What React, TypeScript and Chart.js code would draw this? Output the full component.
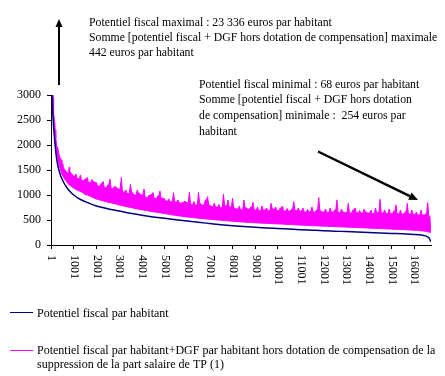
import React, { useEffect, useRef } from "react";
import { Chart, registerables } from "chart.js";

Chart.register(...registerables);

// ---------- data ----------
const X_TICKS = [1, 1001, 2001, 3001, 4001, 5001, 6001, 7001, 8001, 9001, 10001, 11001, 12001, 13001, 14001, 15001, 16001];
const X_MAX = 16745;
const X_LAST = 16735;
const Y_MAX = 3000;
const Y_STEP = 500;

// Potentiel fiscal par habitant (sorted, communes ranked)
const NAVY_IDX = [1, 15, 40, 70, 100, 130, 170, 220, 280, 350, 440, 550, 680, 820, 1000, 1300, 1650, 2000, 2500, 3000, 3500, 4000, 4500, 5000, 5500, 6000, 6500, 7000, 7500, 8000, 8500, 9000, 9500, 10000, 10500, 11000, 11500, 12000, 12500, 13000, 13500, 14000, 14500, 15000, 15500, 16000, 16300, 16500, 16600, 16680, 16730];
const NAVY_VAL = [23336, 5000, 3300, 2750, 2480, 2280, 2060, 1830, 1640, 1500, 1370, 1260, 1160, 1080, 1000, 910, 840, 780, 725, 680, 635, 595, 562, 533, 505, 478, 453, 430, 407, 387, 370, 355, 342, 330, 318, 306, 296, 286, 277, 268, 259, 250, 241, 232, 223, 212, 200, 182, 160, 125, 68];

// Potentiel fiscal + DGF : early (steep) part, peaks and troughs
const MAG_EARLY_IDX = [1, 20, 40, 60, 80, 100, 130, 160, 190, 220, 260, 300, 340, 380, 420, 460, 500, 550, 600, 650, 700, 750, 800, 850, 900, 950];
const MAG_EARLY_HIGH = [23442, 6000, 3800, 3300, 3100, 2950, 2600, 2450, 2300, 2140, 2000, 1970, 1900, 1800, 1740, 1700, 1620, 1560, 1520, 1500, 1470, 1440, 1553, 1450, 1420, 1400];
const MAG_EARLY_LOW = [8000, 4500, 3400, 3000, 2800, 2580, 2380, 2200, 2080, 1960, 1830, 1720, 1630, 1560, 1500, 1450, 1400, 1360, 1320, 1290, 1260, 1230, 1200, 1190, 1170, 1150];

// then one peak / trough pair every 100 communes from 1000 to 16700
const MAG_START = 1000;
const MAG_STEP = 100;
const MAG_HIGH = [
  1380, 1420, 1330, 1400, 1290, 1320, 1350, 1250, 1310, 1270,
  1250, 1180, 1230, 1270, 1150, 1200, 1320, 1130, 1180, 1150,
  1120, 1353, 1060, 1100, 1030, 1213, 1050, 1000, 1100, 1040,
  1000, 1120, 950, 990, 1010, 1050, 930, 980, 1080, 940,
  930, 880, 920, 870, 1047, 860, 900, 840, 853, 880,
  850, 1053, 810, 870, 800, 1053, 830, 800, 900, 967,
  800, 770, 840, 760, 810, 750, 1020, 790, 900, 760,
  933, 740, 720, 780, 710, 900, 750, 720, 760, 853,
  700, 760, 690, 780, 700, 740, 690, 833, 720, 760,
  690, 740, 780, 680, 730, 680, 720, 867, 690, 740,
  680, 740, 660, 710, 670, 760, 660, 700, 947, 680,
  660, 720, 650, 740, 660, 700, 900, 650, 720, 660,
  650, 833, 640, 700, 740, 645, 690, 640, 720, 660,
  640, 700, 630, 740, 650, 913, 640, 700, 630, 720,
  630, 680, 800, 625, 700, 620, 660, 833, 620, 700,
  610, 660, 600, 700, 600, 620, 847, 570,
];
const MAG_LOW = [
  1140, 1110, 1090, 1070, 1050, 1010, 1000, 980, 960, 940,
  920, 905, 895, 880, 870, 855, 850, 835, 825, 815,
  800, 790, 780, 770, 760, 750, 742, 730, 722, 712,
  705, 698, 690, 680, 672, 665, 658, 650, 645, 636,
  630, 622, 615, 605, 598, 590, 585, 578, 570, 565,
  560, 555, 550, 545, 540, 537, 532, 528, 522, 518,
  515, 510, 506, 502, 498, 495, 490, 486, 482, 478,
  475, 472, 468, 465, 462, 458, 455, 452, 450, 447,
  445, 442, 440, 437, 435, 433, 430, 428, 426, 424,
  422, 420, 418, 415, 412, 410, 408, 405, 403, 400,
  398, 396, 394, 391, 389, 387, 385, 383, 381, 379,
  377, 375, 373, 371, 369, 367, 365, 363, 361, 360,
  358, 356, 354, 352, 350, 348, 346, 344, 342, 340,
  338, 336, 334, 332, 330, 328, 326, 324, 322, 320,
  318, 316, 314, 312, 310, 308, 306, 303, 300, 298,
  296, 292, 288, 284, 280, 275, 265, 254,
];

const LEGEND_1 = ["Potentiel fiscal par habitant"];
const LEGEND_2 = [
  "Potentiel fiscal par habitant+DGF par habitant hors dotation de compensation de la",
  "suppression de la part salaire de TP (1)",
];
const ANNOT_MAX = [
  "Potentiel fiscal maximal : 23 336 euros par habitant",
  "Somme [potentiel fiscal + DGF hors dotation de compensation] maximale",
  "442 euros par habitant",
];
const ANNOT_MIN = [
  "Potentiel fiscal minimal : 68 euros par habitant",
  "Somme [potentiel fiscal + DGF hors dotation",
  "de compensation] minimale :  254 euros par",
  "habitant",
];

const NAVY = "#000080";
const MAGENTA = "#FF00FF";
const SERIF = '"Liberation Serif", "Times New Roman", serif';

// Upper edge of the magenta band (peaks joined through the lower of two
// neighbouring peaks) and lower edge (troughs); the band between is filled.
function buildMagenta() {
  const idx: number[] = [...MAG_EARLY_IDX];
  const hi: number[] = [...MAG_EARLY_HIGH];
  const lo: number[] = [...MAG_EARLY_LOW];
  MAG_HIGH.forEach((h, k) => {
    idx.push(MAG_START + MAG_STEP * k);
    hi.push(h);
    lo.push(MAG_LOW[k]);
  });
  const top: { x: number; y: number }[] = [];
  const bottom: { x: number; y: number }[] = [];
  const n = idx.length;
  for (let i = 0; i < n; i++) {
    top.push({ x: idx[i], y: hi[i] });
    if (i < n - 1) top.push({ x: (idx[i] + idx[i + 1]) / 2, y: Math.min(hi[i], hi[i + 1]) });
    bottom.push({ x: idx[i], y: lo[i] });
  }
  top.push({ x: X_LAST, y: lo[n - 1] });
  bottom.push({ x: X_LAST, y: lo[n - 1] });
  return { top, bottom };
}

function drawArrow(ctx: CanvasRenderingContext2D, x1: number, y1: number, x2: number, y2: number, w: number, headLen: number, headHalf: number) {
  const ang = Math.atan2(y2 - y1, x2 - x1);
  const bx = x2 - Math.cos(ang) * headLen;
  const by = y2 - Math.sin(ang) * headLen;
  ctx.save();
  ctx.strokeStyle = "#000";
  ctx.fillStyle = "#000";
  ctx.lineWidth = w;
  ctx.beginPath();
  ctx.moveTo(x1, y1);
  ctx.lineTo(bx, by);
  ctx.stroke();
  ctx.beginPath();
  ctx.moveTo(x2, y2);
  ctx.lineTo(bx + Math.sin(ang) * headHalf, by - Math.cos(ang) * headHalf);
  ctx.lineTo(bx - Math.sin(ang) * headHalf, by + Math.cos(ang) * headHalf);
  ctx.closePath();
  ctx.fill();
  ctx.restore();
}

const overlay = {
  id: "overlay",
  afterDraw(chart: any) {
    const ctx: CanvasRenderingContext2D = chart.ctx;
    const xs = chart.scales.x;
    const area = chart.chartArea;
    ctx.save();
    ctx.fillStyle = "#000";
    ctx.font = "12px " + SERIF;
    // rotated x tick labels (reading top to bottom)
    ctx.textAlign = "left";
    ctx.textBaseline = "middle";
    X_TICKS.forEach((v) => {
      const px = xs.getPixelForValue(v);
      ctx.save();
      ctx.translate(px + 0.5, area.bottom + 10);
      ctx.rotate(Math.PI / 2);
      ctx.fillText(String(v), 0, 0);
      ctx.restore();
    });
    // annotations
    ctx.textBaseline = "alphabetic";
    ctx.font = "11.75px " + SERIF;
    ANNOT_MAX.forEach((t, i) => ctx.fillText(t, 89, 25.5 + i * 15.4));
    ANNOT_MIN.forEach((t, i) => ctx.fillText(t, 199, 87.5 + i * 15.7));
    drawArrow(ctx, 59, 85, 59, 19, 2, 8, 3.5);
    drawArrow(ctx, 318, 151.5, 418, 200, 2.5, 9, 4);
    // legend
    ctx.font = "12px " + SERIF;
    ctx.lineWidth = 1;
    ctx.strokeStyle = NAVY;
    ctx.beginPath();
    ctx.moveTo(10, 312.5);
    ctx.lineTo(33, 312.5);
    ctx.stroke();
    ctx.fillStyle = "#000";
    LEGEND_1.forEach((t, i) => ctx.fillText(t, 37, 316.5 + i * 13.5));
    ctx.strokeStyle = MAGENTA;
    ctx.beginPath();
    ctx.moveTo(10, 350.5);
    ctx.lineTo(33, 350.5);
    ctx.stroke();
    LEGEND_2.forEach((t, i) => ctx.fillText(t, 37, 354 + i * 13.5));
    ctx.restore();
  },
};

export default function App() {
  const ref = useRef<HTMLCanvasElement | null>(null);
  useEffect(() => {
    if (!ref.current) return;
    const navyData = NAVY_IDX.map((x, i) => ({ x, y: NAVY_VAL[i] }));
    const mag = buildMagenta();
    const chart = new Chart(ref.current, {
      type: "line",
      data: {
        datasets: [
          {
            label: LEGEND_1.join(" "),
            data: navyData,
            borderColor: NAVY,
            borderWidth: 1.5,
            pointRadius: 0,
            cubicInterpolationMode: "monotone",
            fill: false,
          },
          {
            label: LEGEND_2.join(" "),
            data: mag.top,
            borderColor: MAGENTA,
            backgroundColor: MAGENTA,
            borderWidth: 1,
            pointRadius: 0,
            tension: 0,
            fill: "+1",
          },
          {
            label: "band-low",
            data: mag.bottom,
            borderColor: MAGENTA,
            borderWidth: 1,
            pointRadius: 0,
            tension: 0,
            fill: false,
          },
        ],
      },
      options: {
        responsive: false,
        animation: false,
        devicePixelRatio: 1,
        events: [],
        layout: { padding: { top: 95, right: 14, bottom: 0, left: 0 } },
        plugins: { legend: { display: false }, tooltip: { enabled: false }, title: { display: false } },
        scales: {
          x: {
            type: "linear",
            min: 1,
            max: X_MAX,
            afterBuildTicks: (scale: any) => {
              scale.ticks = X_TICKS.map((v) => ({ value: v }));
            },
            afterFit: (scale: any) => {
              scale.height = 131;
              scale.paddingLeft = 0;
              scale.paddingRight = 0;
            },
            ticks: { display: false },
            grid: { display: true, drawOnChartArea: false, drawTicks: true, tickLength: 4, color: "#000", lineWidth: 1 },
            border: { display: true, color: "#000", width: 1 },
          },
          y: {
            min: 0,
            max: Y_MAX,
            afterFit: (scale: any) => {
              scale.width = 51;
              scale.paddingTop = 0;
              scale.paddingBottom = 0;
            },
            ticks: {
              stepSize: Y_STEP,
              padding: 6,
              color: "#000",
              font: { family: SERIF, size: 12 },
              callback: (v: any) => String(v),
            },
            grid: { display: true, drawOnChartArea: false, drawTicks: true, tickLength: 4, color: "#000", lineWidth: 1 },
            border: { display: true, color: "#000", width: 1 },
          },
        },
      },
      plugins: [overlay],
    });
    return () => chart.destroy();
  }, []);
  return (
    <div style={{ position: "fixed", left: 0, top: 0, width: 445, height: 376, background: "#fff" }}>
      <canvas ref={ref} width={445} height={376} style={{ display: "block", width: 445, height: 376 }} />
    </div>
  );
}
